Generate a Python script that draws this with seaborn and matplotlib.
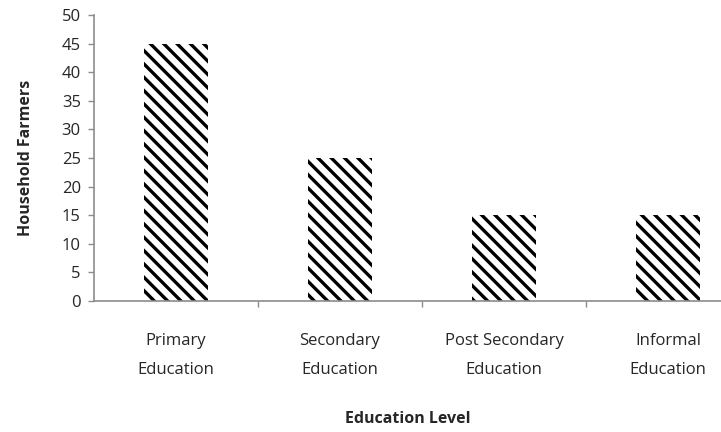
import matplotlib
matplotlib.use("Agg")
import matplotlib.pyplot as plt
import seaborn as sns
import pandas as pd

levels = ["Primary\nEducation", "Secondary\nEducation", "Post Secondary\nEducation", "Informal\nEducation"]
farmers = [45, 25, 15, 15]
yticks = [0, 5, 10, 15, 20, 25, 30, 35, 40, 45, 50]

df = pd.DataFrame({"level": levels, "farmers": farmers})

# render at 80 dpi so the hatch spacing matches; sizes below are scaled to match
DPI = 80
s = 100 / DPI

sns.set_style("white")
plt.rcParams["font.family"] = ["Open Sans", "DejaVu Sans"]
plt.rcParams["hatch.linewidth"] = 3.0

fig = plt.figure(figsize=(721 / DPI, 432 / DPI), dpi=DPI)
ax = fig.add_axes([94 / 721, 1 - 301 / 432, 1 - 94 / 721, (301 - 15) / 432])

sns.barplot(data=df, x="level", y="farmers", color="white", width=0.39,
            edgecolor="black", linewidth=0, hatch="\\\\", ax=ax)

ax.set_ylim(0, 50)
ax.set_xlim(-0.5, -0.5 + 627 / 164)
ax.set_yticks(yticks)
ax.set_xticks([0.5, 1.5, 2.5], minor=True)

grey = "#8c8c8c"
sns.despine(ax=ax, top=True, right=True)
for side in ["left", "bottom"]:
    ax.spines[side].set_color(grey)
    ax.spines[side].set_linewidth(1.2 * s)

ax.tick_params(axis="y", which="major", direction="out", length=4.5 * s, width=1 * s,
               color=grey, labelsize=12 * s, pad=5 * s, left=True)
ax.tick_params(axis="x", which="major", length=0, labelsize=12 * s, pad=23 * s)
ax.tick_params(axis="x", which="minor", direction="out", length=4 * s, width=1 * s,
               color=grey, bottom=True)
for lab in ax.get_xticklabels():
    lab.set_linespacing(2.05)

ax.set_xlabel("Education Level", fontsize=11.5 * s, fontweight="bold", labelpad=24 * s)
ax.set_ylabel("Household Farmers", fontsize=11.5 * s, fontweight="bold", labelpad=20 * s)

fig.savefig("out.png", dpi=DPI)
